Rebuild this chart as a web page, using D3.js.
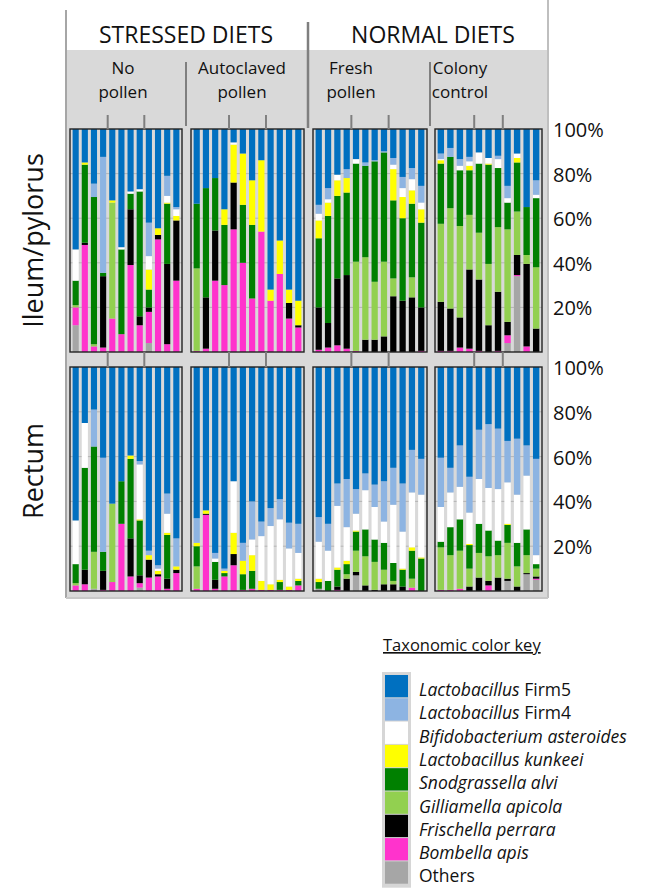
<!DOCTYPE html>
<html>
<head>
<meta charset="utf-8">
<script src="https://cdn.jsdelivr.net/npm/d3@7"></script>
<style>
  body { margin: 0; background: #fff; }
  text { font-family: "Open Sans", "Noto Sans", sans-serif; fill: #111; }
</style>
</head>
<body>
<script>
// taxa, stacked from bottom to top
var taxa = ["Others", "Bombella", "Frischella", "Gilliamella", "Snodgrassella",
            "kunkeei", "Bifidobacterium", "Firm4", "Firm5"];
var taxaColors = ["#a6a6a6", "#ff33cc", "#000000", "#92d050", "#008000",
                  "#ffff00", "#ffffff", "#8db4e2", "#0070c0"];

// legend (top to bottom): [italic part, plain part]
var legendLabels = [
    ["Lactobacillus", " Firm5"],
    ["Lactobacillus", " Firm4"],
    ["Bifidobacterium asteroides", ""],
    ["Lactobacillus kunkeei", ""],
    ["Snodgrassella alvi", ""],
    ["Gilliamella apicola", ""],
    ["Frischella perrara", ""],
    ["Bombella apis", ""],
    ["", "Others"]
];

var dietGroups = ["STRESSED DIETS", "NORMAL DIETS"];
var dietLabels = [["No", "pollen"], ["Autoclaved", "pollen"], ["Fresh", "pollen"], ["Colony", "control"]];
var tissues = ["Ileum/pylorus", "Rectum"];
var tickLabels = [20, 40, 60, 80, 100];

// each bar: [Others, Bombella, Frischella, Gilliamella, Snodgrassella, kunkeei, Bifido, Firm4, Firm5] (%)
var ileumNoPollen = [
    [12, 8, 0, 1, 11, 0, 14, 0, 54],
    [0, 48, 1, 0, 35, 1, 0, 0, 15],
    [0, 2.5, 0, 1, 66, 0, 0, 6, 24.5],
    [0, 2, 32, 0, 1.5, 0, 0, 52, 12.5],
    [0, 15, 0, 52, 0, 1, 0, 0, 32],
    [0, 8, 0, 0, 38, 0, 1, 0, 53],
    [0, 39, 25, 0, 7, 0, 1, 0, 28],
    [0, 12, 4, 0, 56, 0, 1, 0, 27],
    [4, 14, 2, 0, 8, 9, 6, 15, 42],
    [0, 50.5, 2, 0, 0, 3, 0, 0, 44.5],
    [0, 3.5, 36, 0, 27, 0.5, 3, 9, 21],
    [0, 32, 27, 0, 0, 2, 3, 1, 35]
];
var ileumAutoclaved = [
    [0, 0.5, 0, 37, 29, 0, 0, 0, 33.5],
    [0, 1.5, 23, 0, 49, 0, 0, 0, 26.5],
    [0, 32, 22.5, 0, 23.5, 0, 0, 0, 22],
    [0, 30, 0, 0, 27, 7, 0, 0, 36],
    [0, 55, 21, 0, 0, 17, 1, 0, 6],
    [0, 40, 0, 0, 26, 23, 0, 0, 11],
    [0, 24, 0, 0, 33, 20, 0, 0, 23],
    [0, 54, 0, 0, 0, 32, 0, 0, 14],
    [0, 23, 0, 0, 0, 5, 0, 0, 72],
    [0, 35, 0, 0, 0, 15, 0, 0, 50],
    [0, 15, 7, 0, 0, 6, 0, 0, 72],
    [0, 11, 1, 0, 0, 11, 0, 0, 77]
];
var ileumFresh = [
    [0, 1, 19, 0, 31, 8, 3, 4, 34],
    [0, 2, 11, 0, 48, 6, 1.5, 5, 26.5],
    [0, 3, 30, 0, 37, 7, 2.5, 0, 20.5],
    [0, 1.5, 33, 0, 37, 6.5, 0, 4, 18],
    [0, 0.5, 0, 40, 44, 0, 2, 0, 13.5],
    [0, 0, 5.5, 37, 41, 0, 0, 1.5, 15],
    [0, 0, 5.5, 26, 54, 0, 0, 0.5, 14],
    [0, 0, 7, 33.5, 49, 0, 0, 0.5, 10],
    [0, 0, 25, 8, 35, 14, 2, 3, 13],
    [0, 0, 23, 0, 37, 9.5, 4, 5, 21.5],
    [0, 0, 24.5, 9, 33, 6, 5, 5, 17.5],
    [0, 0.5, 19.5, 0, 38, 6, 3, 7.5, 25.5]
];
var ileumColony = [
    [0, 0.5, 22, 35, 27, 1.5, 0.5, 2.5, 11],
    [0, 0.5, 19, 45, 23, 0, 0, 4, 8.5],
    [0, 2, 13.5, 41, 25, 0, 2, 3, 13.5],
    [0, 1.5, 35.5, 24.5, 20, 2, 2, 2, 12.5],
    [0, 0.5, 32, 21, 31, 0, 5, 0, 10.5],
    [0, 0, 12, 27.5, 44.5, 0.5, 2.5, 0, 13],
    [0, 0.5, 26.5, 29, 26.5, 0, 4, 1.5, 12],
    [4, 3.5, 6, 41.5, 12, 0, 2, 5.5, 25.5],
    [34, 0.5, 9, 19.5, 22, 2, 2, 0, 11],
    [0, 2.5, 37, 4, 21.5, 0, 0, 0, 35],
    [0, 0, 10.5, 27.5, 31, 0, 1.5, 6.5, 23]
];
var rectumNoPollen = [
    [0, 2.5, 0, 1, 8.5, 0, 19.5, 0, 68.5],
    [0, 3, 6.5, 0, 45.5, 0, 20, 0, 25],
    [1, 0, 0, 16.5, 47, 0, 0, 16.5, 19],
    [0, 0.5, 8.5, 0, 8.5, 0, 0, 42, 40.5],
    [0, 4, 0, 35, 0, 0, 0, 0, 61],
    [0, 30, 0, 0, 19, 0, 0, 0, 51],
    [0, 6.5, 17, 0, 35.5, 1.5, 0, 0, 39.5],
    [1.5, 2, 3.5, 0, 24.5, 0.5, 24.5, 1.5, 42],
    [0, 6, 8, 0, 0, 2, 0, 2, 82],
    [0, 6.5, 1, 0, 0, 1.5, 1, 1.5, 88.5],
    [0, 1, 4.5, 0, 19.5, 1, 8.5, 9, 56.5],
    [0, 8, 1.5, 0, 0, 1.5, 0, 12.5, 76.5]
];
var rectumAutoclaved = [
    [0, 1, 0, 10, 9, 1.5, 0, 11, 67.5],
    [0, 34, 0.5, 0, 0, 1.5, 0, 0, 64],
    [0, 1, 4, 0, 8, 0, 1.5, 2.5, 83],
    [0, 6.5, 0, 0, 1.5, 1, 0, 1, 90],
    [0, 11.5, 5, 0, 0, 9.5, 23, 0, 51],
    [0, 0.5, 0, 0, 7, 6, 0, 8, 78.5],
    [0, 1, 0, 0, 8, 7, 7, 17, 60],
    [0, 0.5, 0, 0, 0, 4, 20, 6.5, 69],
    [0, 0.5, 0, 0, 0, 2.5, 26, 8, 63],
    [0, 0.5, 0, 0, 3.5, 1, 27, 9, 59],
    [0, 0.5, 0, 0, 0, 1.5, 17, 11.5, 69.5],
    [0, 2.5, 0, 0, 2, 1, 11.5, 13, 70]
];
var rectumFresh = [
    [1, 0, 0, 0, 3, 1.5, 16.5, 11, 67],
    [0, 0, 0, 0, 4.5, 0, 13.5, 12, 70],
    [0, 0.5, 1.5, 0, 7.5, 1, 27.5, 10, 52],
    [0, 0, 5.5, 2, 4.5, 1.5, 15, 21.5, 50],
    [7, 0, 1.5, 9.5, 8.5, 0.5, 7.5, 11, 54.5],
    [0, 0, 2.5, 13, 12, 0, 17.5, 7.5, 47.5],
    [0, 0, 0.5, 12.5, 10, 0, 14.5, 10, 52.5],
    [0, 0, 3, 6.5, 12, 0, 9.5, 18, 51],
    [0, 0, 3, 1.5, 8, 0, 26, 16.5, 45],
    [0, 0, 2, 0, 7.5, 0.5, 16.5, 21.5, 52],
    [0, 1.5, 0, 4, 12.5, 1.5, 24.5, 19, 37],
    [0, 0, 0, 0, 14.5, 0.5, 28, 16, 41]
];
var rectumColony = [
    [0, 0.5, 0, 19, 2.5, 0, 15.5, 22, 40.5],
    [0, 0.5, 0, 15.5, 12.5, 0, 15.5, 11, 45],
    [0, 1, 0, 17, 14, 0, 14.5, 18.5, 35],
    [0, 0, 2, 8, 10.5, 0.5, 14, 16, 49],
    [0, 0, 6, 11, 13, 0, 20, 22, 28],
    [0, 2.5, 2, 11, 11.5, 0, 19, 28.5, 25.5],
    [0, 0, 6, 10, 6.5, 0, 23, 27, 27.5],
    [4.5, 0, 1, 16, 8, 0.5, 18.5, 18.5, 33],
    [0, 0, 2, 9, 10.5, 0, 21.5, 25, 32],
    [7.5, 0, 0.5, 8, 11.5, 0, 24, 13.5, 35],
    [5, 0.5, 1, 3.5, 2, 0, 4, 43, 41]
];

// bees per cage group in each diet (ticks sit between groups)
var cageGroups = [[4, 4, 4], [4, 4, 4], [4, 4, 4], [4, 3, 4]];

var panelData = [
    [ileumNoPollen, ileumAutoclaved, ileumFresh, ileumColony],
    [rectumNoPollen, rectumAutoclaved, rectumFresh, rectumColony]
];

// =======================================================
// layout
// =======================================================
var width = 646, height = 889;
var panelX = [[70, 182], [191, 304], [313, 427], [435, 542]];
var rowY = [[352, 129], [591, 367]];   // [0%, 100%]

var svg = d3.select("body").append("svg")
    .attr("width", width)
    .attr("height", height);

// grey backdrop and outer rules
svg.append("rect").attr("x", 66).attr("y", 50).attr("width", 482).attr("height", 548).attr("fill", "#d9d9d9");
svg.append("line").attr("x1", 66).attr("x2", 66).attr("y1", 10).attr("y2", 598).attr("stroke", "#a6a6a6").attr("stroke-width", 2);
svg.append("line").attr("x1", 548).attr("x2", 548).attr("y1", 0).attr("y2", 598).attr("stroke", "#bfbfbf").attr("stroke-width", 2);
svg.append("line").attr("x1", 66).attr("x2", 548).attr("y1", 598).attr("y2", 598).attr("stroke", "#c8c8c8").attr("stroke-width", 2);

// header
svg.append("line").attr("x1", 308).attr("x2", 308).attr("y1", 22).attr("y2", 128).attr("stroke", "#7f7f7f").attr("stroke-width", 2.5);
[186, 430].forEach(function (x) {
    svg.append("line").attr("x1", x).attr("x2", x).attr("y1", 62).attr("y2", 126).attr("stroke", "#7f7f7f").attr("stroke-width", 2);
});
svg.selectAll(".group-label")
    .data(dietGroups)
    .enter().append("text")
    .attr("x", function (d, i) { return [186, 433][i]; })
    .attr("y", 43)
    .attr("text-anchor", "middle")
    .style("font-size", "23px")
    .text(function (d) { return d; });

var dietX = [123, 242, 351, 460];
dietLabels.forEach(function (lines, i) {
    lines.forEach(function (s, j) {
        svg.append("text")
            .attr("x", dietX[i])
            .attr("y", 74 + j * 24)
            .attr("text-anchor", "middle")
            .style("font-size", "17px")
            .text(s);
    });
});

// tissue labels
tissues.forEach(function (t, r) {
    var cy = (rowY[r][0] + rowY[r][1]) / 2 + [0, -8][r];
    svg.append("text")
        .attr("transform", "translate(43," + cy + ") rotate(-90)")
        .attr("text-anchor", "middle")
        .style("font-size", "27px")
        .text(t);
});

// =======================================================
// panels
// =======================================================
var stack = d3.stack().keys(taxa);

panelData.forEach(function (row, r) {
    var y = d3.scaleLinear().domain([0, 100]).range(rowY[r]);

    // % labels on the right
    svg.append("g").selectAll("text")
        .data(tickLabels)
        .enter().append("text")
        .attr("x", 553)
        .attr("y", function (d) { return y(d) + 8; })
        .style("font-size", "20px")
        .text(function (d) { return d + "%"; });

    row.forEach(function (bars, p) {
        var x = d3.scaleBand()
            .domain(d3.range(bars.length))
            .range([panelX[p][0] + 1.5, panelX[p][1] - 1.5])
            .paddingInner(0.33)
            .paddingOuter(0.12);

        var g = svg.append("g");

        // faint gridlines
        g.selectAll(".grid")
            .data([20, 40, 60, 80])
            .enter().append("line")
            .attr("x1", panelX[p][0]).attr("x2", panelX[p][1])
            .attr("y1", function (d) { return y(d); })
            .attr("y2", function (d) { return y(d); })
            .attr("stroke", "#b5b5b5")
            .attr("stroke-width", 1);

        var rows = bars.map(function (b) {
            var o = {};
            taxa.forEach(function (k, i) { o[k] = b[i]; });
            return o;
        });
        var series = stack(rows);

        g.selectAll(".layer")
            .data(series)
            .enter().append("g")
            .attr("fill", function (d, i) { return taxaColors[i]; })
            .selectAll("rect")
            .data(function (d) { return d; })
            .enter().append("rect")
            .attr("x", function (d, i) { return x(i); })
            .attr("width", x.bandwidth())
            .attr("y", function (d) { return y(d[1]); })
            .attr("height", function (d) { return y(d[0]) - y(d[1]); });

        // frame
        g.append("rect")
            .attr("x", panelX[p][0]).attr("y", y(100))
            .attr("width", panelX[p][1] - panelX[p][0])
            .attr("height", y(0) - y(100))
            .attr("fill", "none")
            .attr("stroke", "#222")
            .attr("stroke-width", 1.4);

        // cage separators
        var cum = 0;
        cageGroups[p].slice(0, -1).forEach(function (n) {
            cum += n;
            var tx = (x(cum - 1) + x.bandwidth() + x(cum)) / 2;
            var y1 = r === 0 ? 115 : 352, y2 = r === 0 ? 129 : 367;
            svg.append("line")
                .attr("x1", tx).attr("x2", tx)
                .attr("y1", y1).attr("y2", y2)
                .attr("stroke", "#7f7f7f")
                .attr("stroke-width", 2);
        });
    });
});

// =======================================================
// legend
// =======================================================
var legend = svg.append("g");
legend.append("text")
    .attr("x", 383).attr("y", 651)
    .style("font-size", "16.5px")
    .attr("text-decoration", "underline")
    .text("Taxonomic color key");

var legendColors = taxaColors.slice().reverse();
var rowH = 23.3;
legend.append("rect")
    .attr("x", 382).attr("y", 672)
    .attr("width", 29).attr("height", rowH * 9 + 6)
    .attr("fill", "#d6d6d6");

legendLabels.forEach(function (lab, i) {
    var top = 675 + i * rowH;
    legend.append("rect")
        .attr("x", 385).attr("y", top)
        .attr("width", 23).attr("height", rowH - 1)
        .attr("fill", legendColors[i]);
    var t = legend.append("text")
        .attr("x", 419).attr("y", top + 21)
        .style("font-size", "17.5px");
    if (lab[0]) t.append("tspan").style("font-style", "italic").text(lab[0]);
    if (lab[1]) t.append("tspan").text(lab[1]);
});
</script>
</body>
</html>
